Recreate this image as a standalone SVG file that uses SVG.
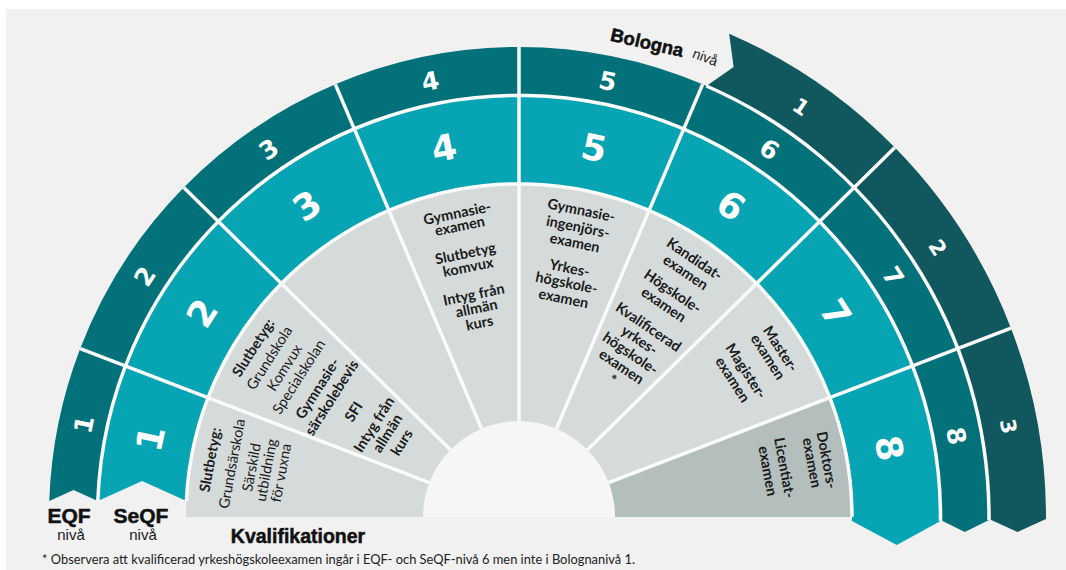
<svg xmlns="http://www.w3.org/2000/svg" width="1066" height="570" viewBox="0 0 1066 570">
<style>
.gray{fill:#d5dadb}
.gray8{fill:#b4bebd}
.teal{fill:#07a4b4}
.eqf{fill:#027179}
.bol{fill:#10585d}
.sep{stroke:#fbfbfb;stroke-width:3.5;fill:none}
.num{font-family:"DejaVu Sans",sans-serif;font-weight:bold;fill:#ffffff;text-anchor:middle}
.q{font-family:Lato,"Liberation Sans",sans-serif;font-size:14.5px;fill:#1a1a1a;text-anchor:middle}
.b{font-weight:bold}
.head{font-family:"Liberation Sans",Arial,sans-serif;font-weight:bold;fill:#111111;text-anchor:middle;stroke:#111111;stroke-width:0.5}
.sub{font-family:"Liberation Sans",Arial,sans-serif;fill:#1a1a1a;text-anchor:middle}
</style>
<rect x="0" y="0" width="1066" height="570" fill="#ffffff"/>
<rect x="6" y="9" width="1060" height="561" fill="#f1f1f1"/>
<path d="M423 517 A96 96 0 0 1 615 517 Z" fill="#f6f6f6"/>

<!-- Qualification sectors -->
<g id="qual-1">
<path class="gray" d="M429.38 482.60 L208.12 397.66 A333 333 0 0 0 186 517 L423 517 A96 96 0 0 1 429.38 482.60 Z"/>
<g transform="translate(519 517) rotate(-79.5)">
<text class="q b" y="-309">Slutbetyg:</text>
<text class="q" y="-287">Grundsärskola</text>
<text class="q" y="-267">Särskild</text>
<text class="q" y="-252">utbildning</text>
<text class="q" y="-237">för vuxna</text>
</g>
</g>
<g id="qual-2">
<path class="gray" d="M450.53 449.71 L281.49 283.60 A333 333 0 0 0 208.12 397.66 L429.38 482.60 A96 96 0 0 1 450.53 449.71 Z"/>
<g transform="translate(519 517) rotate(-57.5)">
<text class="q b" y="-310">Slutbetyg:</text>
<text class="q" y="-291">Grundskola</text>
<text class="q" y="-273">Komvux</text>
<text class="q" y="-256">Specialskolan</text>
<text class="q b" y="-234">Gymnasie-</text>
<text class="q b" y="-217">särskolebevis</text>
<text class="q b" y="-191">SFI</text>
<text class="q b" y="-167">Intyg från</text>
<text class="q b" y="-151">allmän</text>
<text class="q b" y="-134">kurs</text>
</g>
</g>
<g id="qual-3">
<path class="gray" d="M481.49 428.63 L388.89 210.47 A333 333 0 0 0 281.49 283.60 L450.53 449.71 A96 96 0 0 1 481.49 428.63 Z"/>
</g>
<g id="qual-4">
<path class="gray" d="M519 421 L519 184 A333 333 0 0 0 388.89 210.47 L481.49 428.63 A96 96 0 0 1 519 421 Z"/>
<g transform="translate(519 517) rotate(-11.5)">
<text class="q b" y="-305">Gymnasie-</text>
<text class="q b" y="-292">examen</text>
<text class="q b" y="-264">Slutbetyg</text>
<text class="q b" y="-250">komvux</text>
<text class="q b" y="-222">Intyg från</text>
<text class="q b" y="-208">allmän</text>
<text class="q b" y="-193">kurs</text>
</g>
</g>
<g id="qual-5">
<path class="gray" d="M556.51 428.63 L649.11 210.47 A333 333 0 0 0 519 184 L519 421 A96 96 0 0 1 556.51 428.63 Z"/>
<g transform="translate(519 517) rotate(11.5)">
<text class="q b" y="-308">Gymnasie-</text>
<text class="q b" y="-291">ingenjörs-</text>
<text class="q b" y="-275">examen</text>
<text class="q b" y="-249">Yrkes-</text>
<text class="q b" y="-234">högskole-</text>
<text class="q b" y="-218">examen</text>
</g>
</g>
<g id="qual-6">
<path class="gray" d="M587.47 449.71 L756.51 283.60 A333 333 0 0 0 649.11 210.47 L556.51 428.63 A96 96 0 0 1 587.47 449.71 Z"/>
<g transform="translate(519 517) rotate(34.25)">
<text class="q b" y="-307">Kandidat-</text>
<text class="q b" y="-291">examen</text>
<text class="q b" y="-268">Högskole-</text>
<text class="q b" y="-252">examen</text>
<text class="q b" y="-225">Kvalificerad</text>
<text class="q b" y="-209">yrkes-</text>
<text class="q b" y="-193">högskole-</text>
<text class="q b" y="-177">examen</text>
<text class="q b" y="-161">*</text>
</g>
</g>
<g id="qual-7">
<path class="gray" d="M608.62 482.60 L829.88 397.66 A333 333 0 0 0 756.51 283.60 L587.47 449.71 A96 96 0 0 1 608.62 482.60 Z"/>
<g transform="translate(519 517) rotate(57.25)">
<text class="q b" y="-306">Master-</text>
<text class="q b" y="-291">examen</text>
<text class="q b" y="-265">Magister-</text>
<text class="q b" y="-249">examen</text>
</g>
</g>
<g id="qual-8">
<path class="gray8" d="M615 517 L852 517 A333 333 0 0 0 829.88 397.66 L608.62 482.60 A96 96 0 0 1 615 517 Z"/>
<g transform="translate(519 517) rotate(79.5)">
<text class="q b" y="-308">Doktors-</text>
<text class="q b" y="-293">examen</text>
<text class="q b" y="-265">Licentiat-</text>
<text class="q b" y="-248">examen</text>
</g>
</g>

<!-- SeQF ring -->
<g id="seqf-1"><path class="teal" d="M208.12 397.66 L125.50 365.95 A421.5 421.5 0 0 0 97.80 501 L142.1 481 L186.38 501 A333 333 0 0 1 208.12 397.66 Z"/>
<text class="num" font-size="36" transform="translate(519 517) rotate(-78)" y="-364">1</text></g>
<g id="seqf-2"><path class="teal" d="M281.49 283.60 L218.36 221.57 A421.5 421.5 0 0 0 125.50 365.95 L208.12 397.66 A333 333 0 0 1 281.49 283.60 Z"/>
<text class="num" font-size="36" transform="translate(519 517) rotate(-57.25)" y="-364">2</text></g>
<g id="seqf-3"><path class="teal" d="M388.89 210.47 L354.31 129.01 A421.5 421.5 0 0 0 218.36 221.57 L281.49 283.60 A333 333 0 0 1 388.89 210.47 Z"/>
<text class="num" font-size="36" transform="translate(519 517) rotate(-34.25)" y="-364">3</text></g>
<g id="seqf-4"><path class="teal" d="M519 184 L519 95.5 A421.5 421.5 0 0 0 354.31 129.01 L388.89 210.47 A333 333 0 0 1 519 184 Z"/>
<text class="num" font-size="36" transform="translate(519 517) rotate(-11.5)" y="-364">4</text></g>
<g id="seqf-5"><path class="teal" d="M649.11 210.47 L683.69 129.01 A421.5 421.5 0 0 0 519 95.5 L519 184 A333 333 0 0 1 649.11 210.47 Z"/>
<text class="num" font-size="36" transform="translate(519 517) rotate(11.5)" y="-364">5</text></g>
<g id="seqf-6"><path class="teal" d="M756.51 283.60 L819.64 221.57 A421.5 421.5 0 0 0 683.69 129.01 L649.11 210.47 A333 333 0 0 1 756.51 283.60 Z"/>
<text class="num" font-size="36" transform="translate(519 517) rotate(34.25)" y="-364">6</text></g>
<g id="seqf-7"><path class="teal" d="M829.88 397.66 L912.50 365.95 A421.5 421.5 0 0 0 819.64 221.57 L756.51 283.60 A333 333 0 0 1 829.88 397.66 Z"/>
<text class="num" font-size="36" transform="translate(519 517) rotate(57.25)" y="-364">7</text></g>
<g id="seqf-8"><path class="teal" d="M852 517 L852 521 L896.75 545 L940.5 521 L940.5 517 A421.5 421.5 0 0 0 912.50 365.95 L829.88 397.66 A333 333 0 0 1 852 517 Z"/>
<text class="num" font-size="36" transform="translate(519 517) rotate(79.5)" y="-364">8</text></g>

<!-- EQF ring -->
<g id="eqf-1"><path class="eqf" d="M125.50 365.95 L80.22 348.57 A470 470 0 0 0 49.27 501 L73.5 490 L97.80 501 A421.5 421.5 0 0 1 125.50 365.95 Z"/>
<text class="num" font-size="25" transform="translate(519 517) rotate(-78)" y="-436">1</text></g>
<g id="eqf-2"><path class="eqf" d="M218.36 221.57 L183.77 187.57 A470 470 0 0 0 80.22 348.57 L125.50 365.95 A421.5 421.5 0 0 1 218.36 221.57 Z"/>
<text class="num" font-size="25" transform="translate(519 517) rotate(-57.25)" y="-436">2</text></g>
<g id="eqf-3"><path class="eqf" d="M354.31 129.01 L335.36 84.36 A470 470 0 0 0 183.77 187.57 L218.36 221.57 A421.5 421.5 0 0 1 354.31 129.01 Z"/>
<text class="num" font-size="25" transform="translate(519 517) rotate(-34.25)" y="-436">3</text></g>
<g id="eqf-4"><path class="eqf" d="M519 95.5 L519 47 A470 470 0 0 0 335.36 84.36 L354.31 129.01 A421.5 421.5 0 0 1 519 95.5 Z"/>
<text class="num" font-size="25" transform="translate(519 517) rotate(-11.5)" y="-436">4</text></g>
<g id="eqf-5"><path class="eqf" d="M683.69 129.01 L702.64 84.36 A470 470 0 0 0 519 47 L519 95.5 A421.5 421.5 0 0 1 683.69 129.01 Z"/>
<text class="num" font-size="25" transform="translate(519 517) rotate(11.5)" y="-436">5</text></g>
<g id="eqf-6"><path class="eqf" d="M819.64 221.57 L854.23 187.57 A470 470 0 0 0 702.64 84.36 L683.69 129.01 A421.5 421.5 0 0 1 819.64 221.57 Z"/>
<text class="num" font-size="25" transform="translate(519 517) rotate(34.25)" y="-436">6</text></g>
<g id="eqf-7"><path class="eqf" d="M912.50 365.95 L957.78 348.57 A470 470 0 0 0 854.23 187.57 L819.64 221.57 A421.5 421.5 0 0 1 912.50 365.95 Z"/>
<text class="num" font-size="25" transform="translate(519 517) rotate(57.25)" y="-436">7</text></g>
<g id="eqf-8"><path class="eqf" d="M940.5 517 L940.5 520 L964.75 532 L989 520 L989 517 A470 470 0 0 0 957.78 348.57 L912.50 365.95 A421.5 421.5 0 0 1 940.5 517 Z"/>
<text class="num" font-size="25" transform="translate(519 517) rotate(79.5)" y="-436">8</text></g>

<!-- Bologna ring -->
<g id="bologna-1"><path class="bol" d="M854.23 187.57 L894.88 147.62 A527 527 0 0 0 729.14 33.71 L733.61 67.06 L706.41 85.98 A470 470 0 0 1 854.23 187.57 Z"/>
<text class="num" font-size="21" transform="translate(519 517) rotate(34.5)" y="-490.4">1</text></g>
<g id="bologna-2"><path class="bol" d="M957.78 348.57 L1010.98 328.14 A527 527 0 0 0 894.88 147.62 L854.23 187.57 A470 470 0 0 1 957.78 348.57 Z"/>
<text class="num" font-size="21" transform="translate(519 517) rotate(57.25)" y="-490.4">2</text></g>
<g id="bologna-3"><path class="bol" d="M989 517 L989 519 L1017.5 532 L1046 519 L1046 517 A527 527 0 0 0 1010.98 328.14 L957.78 348.57 A470 470 0 0 1 989 517 Z"/>
<text class="num" font-size="21" transform="translate(519 517) rotate(79.5)" y="-490.4">3</text></g>

<!-- separators -->
<g id="connectors" class="sep">
<path d="M852 517 A333 333 0 0 0 186.38 501"/>
<path d="M940.5 517 A421.5 421.5 0 0 0 97.80 501"/>
<path d="M940.5 516 L940.5 521"/>
<path d="M989 517 A470 470 0 0 0 706.41 85.98"/>
<path d="M989 516 L989 520"/>
<path d="M429.38 482.60 L80.22 348.57"/>
<path d="M450.53 449.71 L183.77 187.57"/>
<path d="M481.49 428.63 L335.36 84.36"/>
<path d="M519 421 L519 47"/>
<path d="M556.51 428.63 L702.64 84.36"/>
<path d="M587.47 449.71 L894.88 147.62"/>
<path d="M608.62 482.60 L1010.98 328.14"/>
</g>

<!-- labels -->
<g id="label-bologna">
<text class="head" font-size="18.5" transform="translate(647 43) rotate(13)" y="6">Bologna</text>
<text class="sub" font-size="14" transform="translate(705 58) rotate(21)" y="4">nivå</text>
</g>
<g id="label-eqf">
<text class="head" font-size="21" x="69" y="523">EQF</text>
<text class="sub" font-size="15" x="71" y="540">nivå</text>
</g>
<g id="label-seqf">
<text class="head" font-size="21" x="141" y="523">SeQF</text>
<text class="sub" font-size="15" x="143" y="540">nivå</text>
</g>
<g id="label-kval">
<text class="head" font-size="19.5" x="298" y="543">Kvalifikationer</text>
</g>
<text x="42" y="564" font-family="Lato,'Liberation Sans',sans-serif" font-size="13" fill="#222222" textLength="593" lengthAdjust="spacingAndGlyphs">* Observera att kvalificerad yrkeshögskoleexamen ingår i EQF- och SeQF-nivå 6 men inte i Bolognanivå 1.</text>
</svg>
